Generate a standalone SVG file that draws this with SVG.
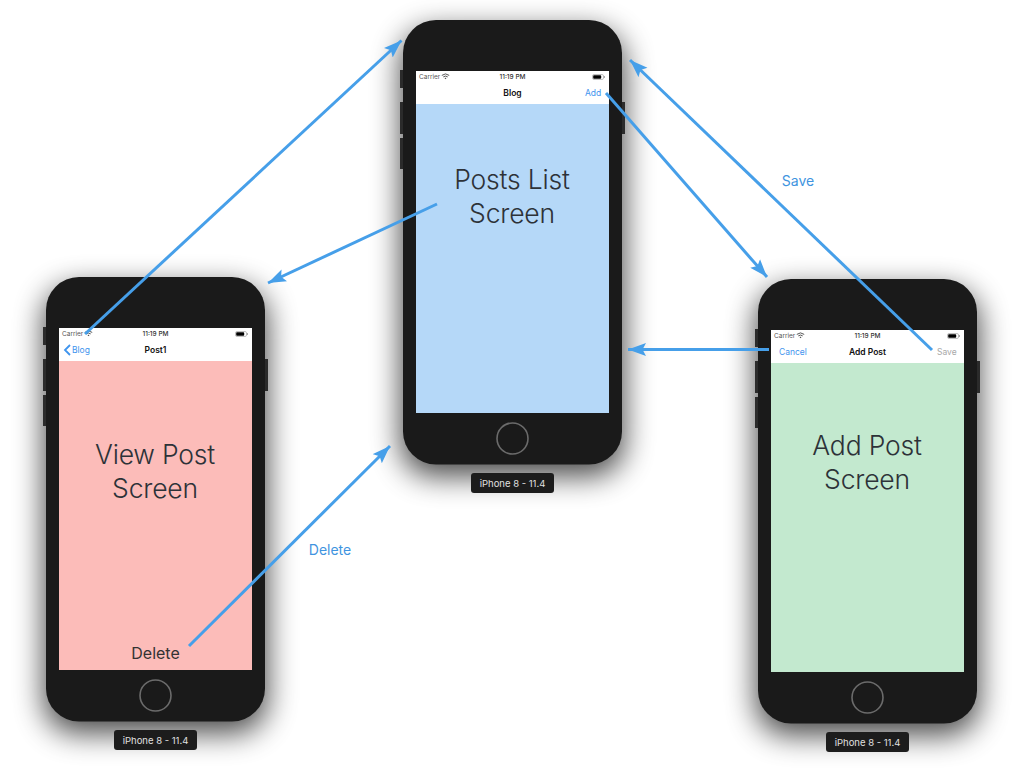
<svg xmlns="http://www.w3.org/2000/svg" width="1024" height="768" viewBox="0 0 1024 768">
<style>
text{font-family:"Inter","Liberation Sans",Arial,sans-serif}
.body{fill:#1a1a1a}
.btn{fill:#2b2b2b}
.home{fill:none;stroke:#6b6b6b;stroke-width:1.6}
.big{font-size:26.500px;font-weight:300;fill:#2d3238;text-anchor:middle;letter-spacing:-.2px}
.status{font-size:6.500px;fill:#555}
.time{font-size:6.500px;fill:#333;text-anchor:middle;font-weight:500}
.title{font-size:8.500px;fill:#111;text-anchor:middle;font-weight:600}
.link{font-size:8.500px;fill:#3f94ee}
.tag{fill:#1c1c1c}
.tagt{font-size:9.500px;fill:#e0e0e0;text-anchor:middle}
.conn{stroke:#469fe9;stroke-width:3;fill:none;marker-end:url(#arrow)}
.lab{font-size:14px;fill:#3f94e0;text-anchor:middle}
</style>
<defs>
<filter id="sh" x="-40%" y="-25%" width="180%" height="150%"><feGaussianBlur stdDeviation="15"/></filter>
<marker id="arrow" markerUnits="userSpaceOnUse" markerWidth="22" markerHeight="16" refX="18" refY="7" orient="auto"><path d="M0 .5L18 7L0 13.500L3.500 7Z" fill="#469fe9"/></marker>
<g id="shell">
<rect x="-2" y="10" width="223" height="446" rx="33" fill="#000" opacity=".72" filter="url(#sh)"/>
<rect class="btn" x="-3" y="50" width="4" height="18"/>
<rect class="btn" x="-3" y="82" width="4" height="32"/>
<rect class="btn" x="-3" y="118" width="4" height="31"/>
<rect class="btn" x="218" y="82" width="4" height="32"/>
<rect class="body" x="0" y="0" width="219" height="444.500" rx="33"/>
<rect x="13" y="51" width="193" height="33" fill="#fff"/>
<circle class="home" cx="109.500" cy="418.500" r="15.500"/>
<g fill="none" stroke="#444" stroke-width=".9"><path d="M38.800 55.400Q42.500 52.400 46.200 55.400"/><path d="M40.300 56.900Q42.500 55.200 44.700 56.900"/></g>
<path d="M41.500 58L42.500 59.300L43.500 58Q42.500 57.300 41.500 58Z" fill="#444"/>
<rect x="189.500" y="54.500" width="11" height="5" rx="1.500" fill="#fff" stroke="#999" stroke-width=".6"/>
<rect x="190.200" y="55.200" width="8" height="3.600" rx=".8" fill="#000"/>
<rect x="200.800" y="56" width="1" height="2" fill="#999"/>
</g>
</defs>

<g id="phone-center" transform="translate(403,20)">
<use href="#shell"/>
<rect x="13" y="84" width="193" height="309" fill="#b5d8f8"/>
<text class="status" x="16" y="59">Carrier</text>
<text class="time" x="109.500" y="59">11:19 PM</text>
<text class="title" x="109.500" y="76">Blog</text>
<text class="link" x="182" y="76">Add</text>
<text class="big" x="109" y="169">Posts List</text>
<text class="big" x="109" y="203">Screen</text>
<rect class="tag" x="68" y="453" width="83" height="20" rx="3"/>
<text class="tagt" x="109.500" y="466.500">iPhone 8 - 11.4</text>
</g>

<g id="phone-left" transform="translate(46,277)">
<use href="#shell"/>
<rect x="13" y="84" width="193" height="309" fill="#fcbcb9"/>
<text class="status" x="16" y="59">Carrier</text>
<text class="time" x="109.500" y="59">11:19 PM</text>
<path d="M24 68L19 73L24 78" fill="none" stroke="#3f94ee" stroke-width="1.800"/>
<text class="link" x="26" y="76">Blog</text>
<text class="title" x="109.500" y="76">Post1</text>
<text class="big" x="109" y="187">View Post</text>
<text class="big" x="109" y="221">Screen</text>
<text x="109.500" y="381.500" font-size="16" fill="#333" text-anchor="middle">Delete</text>
<rect class="tag" x="68" y="453" width="83" height="20" rx="3"/>
<text class="tagt" x="109.500" y="466.500">iPhone 8 - 11.4</text>
</g>

<g id="phone-right" transform="translate(758,279)">
<use href="#shell"/>
<rect x="13" y="84" width="193" height="309" fill="#c3e9cf"/>
<text class="status" x="16" y="59">Carrier</text>
<text class="time" x="109.500" y="59">11:19 PM</text>
<text class="link" x="21" y="76">Cancel</text>
<text class="title" x="109.500" y="76">Add Post</text>
<text x="179" y="76" font-size="8.500" fill="#a8a8a8">Save</text>
<text class="big" x="109" y="175.500">Add Post</text>
<text class="big" x="109" y="209.500">Screen</text>
<rect class="tag" x="68" y="453" width="83" height="20" rx="3"/>
<text class="tagt" x="109.500" y="466.500">iPhone 8 - 11.4</text>
</g>

<g id="connectors">
<path class="conn" d="M85 334L401.500 40.500"/>
<path class="conn" d="M437 204L268 283"/>
<path class="conn" d="M606 93L767 277"/>
<path class="conn" d="M932 350L630 60"/>
<path class="conn" d="M769 349.500L628 349.500"/>
<path class="conn" d="M189 646L390 446"/>
</g>
<text class="lab" x="798" y="186">Save</text>
<text class="lab" x="330" y="555">Delete</text>
</svg>
